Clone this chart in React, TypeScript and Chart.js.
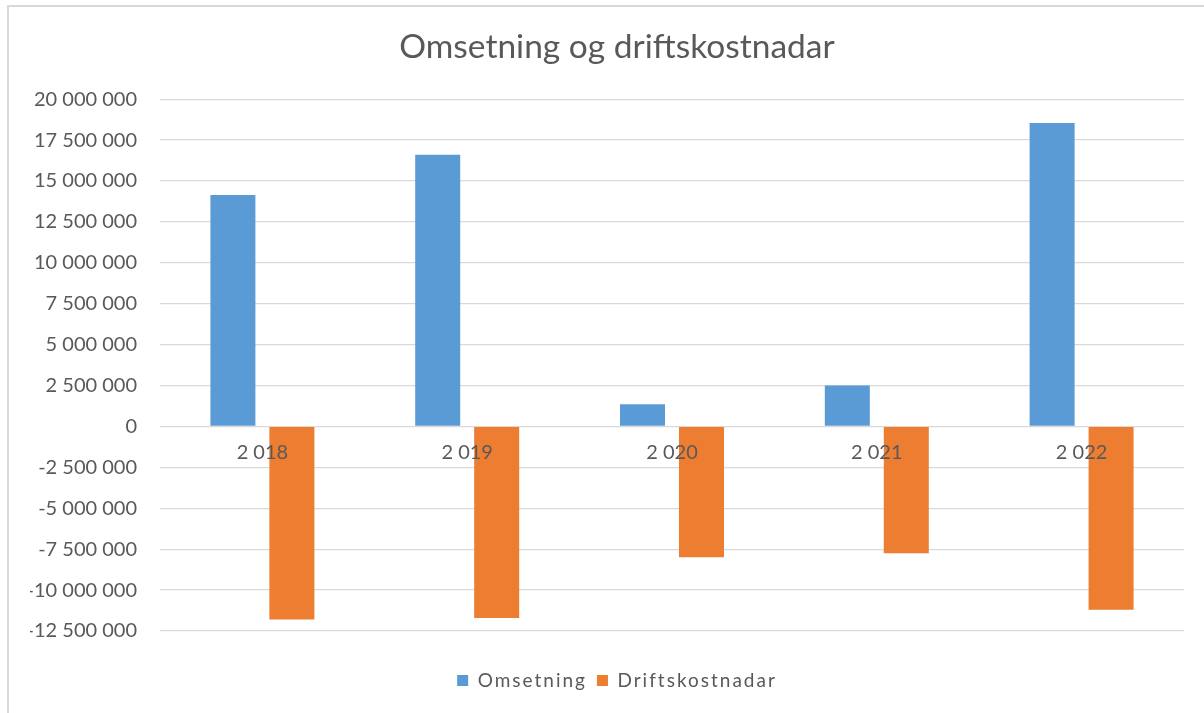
import React, { useEffect, useRef } from "react";
import { Chart, registerables } from "chart.js";

Chart.register(...registerables);

const categories = ["2 018", "2 019", "2 020", "2 021", "2 022"];
const omsetning = [14150000, 16600000, 1350000, 2500000, 18550000];
const driftskostnadar = [-11800000, -11700000, -8000000, -7750000, -11200000];
const seriesNames = ["Omsetning", "Driftskostnadar"];
const titleText = "Omsetning og driftskostnadar";
const yMin = -12500000;
const yMax = 20000000;
const yStep = 2500000;

const TEXT = "#595959";
const FONT = "Lato, 'Open Sans', sans-serif";

function fmt(v: number): string {
  const s = Math.abs(Math.round(v)).toString().replace(/\B(?=(\d{3})+(?!\d))/g, " ");
  return (v < 0 ? "-" : "") + s;
}

const legendSpacing = {
  id: "legendSpacing",
  beforeUpdate(chart: any) {
    const lg = chart.legend;
    if (lg && !lg.__patched) {
      lg.__patched = true;
      const origFit = lg.fit.bind(lg);
      const origDraw = lg.draw.bind(lg);
      lg.fit = function () {
        const ctx = chart.ctx;
        ctx.letterSpacing = "2px";
        origFit();
        ctx.letterSpacing = "0px";
      };
      lg.draw = function (...args: any[]) {
        const ctx = chart.ctx;
        ctx.letterSpacing = "2px";
        origDraw(...args);
        ctx.letterSpacing = "0px";
      };
    }
  },
};

export default function App() {
  const ref = useRef<HTMLCanvasElement | null>(null);
  useEffect(() => {
    if (!ref.current) return;
    const chart = new Chart(ref.current, {
      type: "bar",
      data: {
        labels: categories,
        datasets: [
          {
            label: seriesNames[0],
            data: omsetning,
            backgroundColor: "#5B9BD5",
            categoryPercentage: 0.576,
            barPercentage: 0.763,
          },
          {
            label: seriesNames[1],
            data: driftskostnadar,
            backgroundColor: "#ED7D31",
            categoryPercentage: 0.576,
            barPercentage: 0.763,
          },
        ],
      },
      options: {
        animation: false,
        responsive: false,
        maintainAspectRatio: false,
        layout: { padding: { left: 21, right: 0, top: 0, bottom: 13 } },
        scales: {
          x: {
            position: { y: 0 } as any,
            grid: { display: false, drawTicks: false },
            border: { display: false },
            ticks: {
              z: 1,
              color: TEXT,
              font: { family: FONT, size: 20 },
              padding: 14,
              maxRotation: 0,
            },
          },
          y: {
            min: yMin,
            max: yMax,
            afterFit: (s: any) => {
              s.width = 130;
            },
            grid: { color: "#D9D9D9", lineWidth: 1.3, drawTicks: false },
            border: { display: false },
            ticks: {
              stepSize: yStep,
              color: TEXT,
              padding: 23,
              font: { family: FONT, size: 20 },
              callback: (v: any) => fmt(Number(v)),
            },
          },
          yRight: {
            position: "right",
            display: true,
            afterFit: (s: any) => {
              s.width = 20;
            },
            grid: { display: false, drawTicks: false },
            border: { display: false },
            ticks: { display: false },
          },
        },
        plugins: {
          title: {
            display: true,
            text: titleText,
            color: TEXT,
            font: { family: FONT, size: 33.5, weight: "normal" as any, lineHeight: 1.2 },
            padding: { top: 20, bottom: 32 },
          },
          subtitle: {
            display: true,
            text: " ",
            position: "bottom",
            weight: 500,
            color: "rgba(0,0,0,0)",
            font: { size: 30, lineHeight: 1 },
            padding: 0,
          } as any,
          legend: {
            position: "bottom",
            labels: {
              color: TEXT,
              font: { family: FONT, size: 19 },
              boxWidth: 11,
              boxHeight: 11,
              padding: 10,
            },
          },
          tooltip: { enabled: false },
        },
      },
      plugins: [legendSpacing],
    });
    chart.update();
    return () => chart.destroy();
  }, []);

  return (
    <div style={{ position: "absolute", left: 0, top: 0, width: 1204, height: 713, background: "#fff", overflow: "hidden" }}>
      <div
        style={{
          position: "absolute",
          left: 7,
          top: 5,
          width: 1197,
          height: 708,
          borderTop: "2px solid #D9D9D9",
          borderLeft: "2px solid #D9D9D9",
          boxSizing: "border-box",
        }}
      />
      <canvas ref={ref} width={1195} height={706} style={{ position: "absolute", left: 9, top: 7, width: 1195, height: 706 }} />
    </div>
  );
}
